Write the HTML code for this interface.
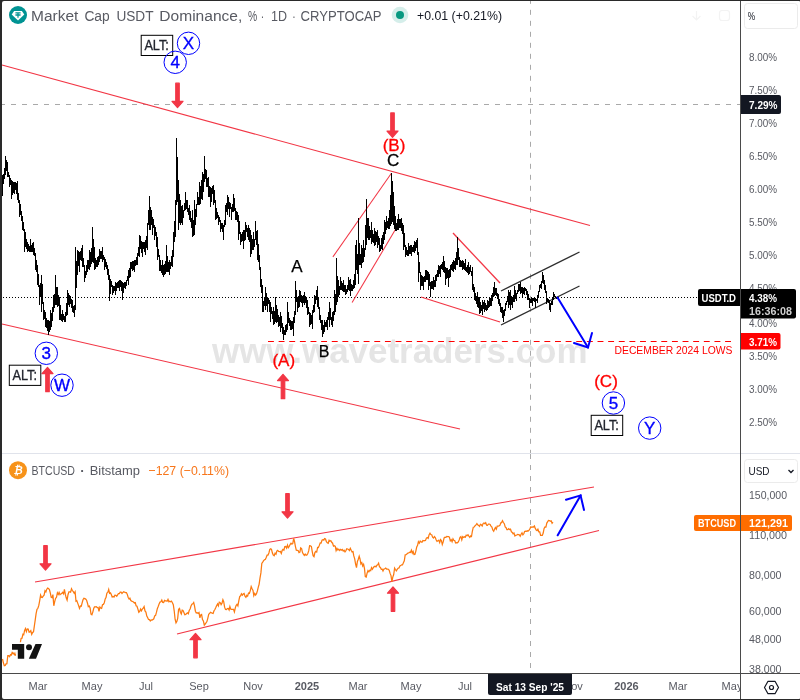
<!DOCTYPE html>
<html><head><meta charset="utf-8"><title>USDT.D chart</title>
<style>
html,body{margin:0;padding:0;background:#fff;}
body{width:800px;height:700px;overflow:hidden;position:relative;font-family:"Liberation Sans",sans-serif;}
svg{position:absolute;left:0;top:0;display:block;}
svg text{font-family:"Liberation Sans",sans-serif;}
</style></head><body>
<svg width="800" height="700" viewBox="0 0 800 700">
<rect x="0" y="0" width="800" height="700" fill="#ffffff"/>

<text x="212" y="363.3" font-size="34.5" font-weight="bold" fill="#e5e5e5" textLength="375.5" lengthAdjust="spacingAndGlyphs">www.wavetraders.com</text>
<path d="M0,104.5H740" stroke="#a9a9a9" stroke-width="1" stroke-dasharray="5 6" fill="none"/>
<path d="M530.5,-1.2V453M530.5,454V673" stroke="#a9a9a9" stroke-width="1" stroke-dasharray="5 6" fill="none"/>
<path d="M0,297.5H698" stroke="#000" stroke-width="1" stroke-dasharray="1 2" fill="none"/>
<path d="M268,341.5H735.5" stroke="#ff0000" stroke-width="1" stroke-dasharray="5.9 4.73" fill="none"/>
<g stroke="#f23645" stroke-width="1.05" fill="none">
<path d="M2,65L590,225.5"/>
<path d="M2,324L460,429"/>
<path d="M332.9,256.9L391.4,173.3"/>
<path d="M352.1,302.5L395.4,229.6"/>
<path d="M453,233L500,283" stroke-width="1.3"/>
<path d="M421,297L500,322" stroke-width="1.3"/>
<path d="M35,582L594,486.9"/>
<path d="M177,634L599,530.6"/>
</g>
<g stroke="#2e2e2e" stroke-width="1.35" fill="none">
<path d="M501,291L579.5,252"/>
<path d="M501,325L579.5,286"/>
</g>
<path d="M2.5,175.0V196.0M3.5,174.0V184.0M4.5,168.0V179.0M5.5,156.0V175.0M6.5,160.0V171.0M7.5,162.0V177.0M8.5,172.0V177.0M9.5,175.0V187.0M10.5,178.0V185.0M11.5,180.0V199.0M12.5,181.0V195.0M13.5,182.0V193.0M14.5,182.0V194.0M15.5,182.0V190.0M16.5,183.0V194.0M17.5,181.0V200.0M18.5,193.0V203.0M19.5,200.0V217.0M20.5,204.0V215.0M21.5,211.0V221.0M22.5,216.0V230.0M23.5,222.0V231.0M24.5,229.0V252.0M25.5,232.0V247.0M26.5,239.0V249.0M27.5,242.0V252.0M28.5,244.0V251.0M29.5,246.0V252.0M30.5,239.0V252.0M31.5,245.0V252.0M32.5,243.0V252.0M33.5,242.0V255.0M34.5,248.0V256.0M35.5,253.0V270.0M36.5,260.0V272.0M37.5,265.0V285.0M38.5,274.0V287.0M39.5,285.0V305.0M40.5,283.0V297.0M41.5,275.0V312.0M42.5,284.0V304.0M43.5,302.0V320.0M44.5,310.0V319.0M45.5,312.0V327.0M46.5,318.0V328.0M47.5,320.0V331.0M48.5,320.0V335.0M49.5,321.0V332.0M50.5,310.0V330.0M51.5,313.0V327.0M52.5,307.0V321.0M53.5,295.0V312.0M54.5,294.0V308.0M55.5,275.0V305.0M56.5,287.0V305.0M57.5,287.0V307.0M58.5,295.0V306.0M59.5,297.0V320.0M60.5,305.0V320.0M61.5,314.0V321.0M62.5,310.0V322.0M63.5,314.0V320.0M64.5,316.0V322.0M65.5,312.0V322.0M66.5,303.0V316.0M67.5,290.0V315.0M68.5,293.0V305.0M69.5,295.0V307.0M70.5,296.0V304.0M71.5,299.0V308.0M72.5,300.0V312.0M73.5,306.0V313.0M74.5,305.0V317.0M75.5,247.0V310.0M76.5,261.0V288.0M77.5,250.0V275.0M78.5,251.0V266.0M79.5,252.0V272.0M80.5,251.0V260.0M81.5,248.0V261.0M82.5,245.0V267.0M83.5,258.0V267.0M84.5,265.0V282.0M85.5,271.0V278.0M86.5,265.0V275.0M87.5,260.0V272.0M88.5,260.0V269.0M89.5,250.0V270.0M90.5,252.0V267.0M91.5,248.0V264.0M92.5,227.0V262.0M93.5,239.0V263.0M94.5,247.0V270.0M95.5,258.0V269.0M96.5,260.0V267.0M97.5,257.0V267.0M98.5,256.0V265.0M99.5,249.0V262.0M100.5,251.0V259.0M101.5,251.0V259.0M102.5,247.0V262.0M103.5,255.0V260.0M104.5,257.0V270.0M105.5,259.0V267.0M106.5,262.0V269.0M107.5,265.0V275.0M108.5,269.0V280.0M109.5,275.0V301.0M110.5,279.0V294.0M111.5,281.0V287.0M112.5,285.0V295.0M113.5,286.0V293.0M114.5,286.0V291.0M115.5,282.0V295.0M116.5,283.0V291.0M117.5,282.0V288.0M118.5,281.0V288.0M119.5,280.0V291.0M120.5,280.0V287.0M121.5,281.0V291.0M122.5,282.0V300.0M123.5,283.0V293.0M124.5,282.0V288.0M125.5,282.0V289.0M126.5,280.0V286.0M127.5,276.0V281.0M128.5,270.0V285.0M129.5,268.0V278.0M130.5,262.0V277.0M131.5,262.0V269.0M132.5,261.0V271.0M133.5,261.0V270.0M134.5,260.0V272.0M135.5,260.0V266.0M136.5,257.0V265.0M137.5,253.0V265.0M138.5,247.0V256.0M139.5,235.0V257.0M140.5,236.0V249.0M141.5,241.0V253.0M142.5,242.0V257.0M143.5,242.0V249.0M144.5,242.0V252.0M145.5,240.0V255.0M146.5,236.0V248.0M147.5,223.0V250.0M148.5,210.0V225.0M149.5,196.0V230.0M150.5,207.0V230.0M151.5,210.0V225.0M152.5,217.0V235.0M153.5,219.0V228.0M154.5,225.0V240.0M155.5,227.0V236.0M156.5,232.0V247.0M157.5,237.0V260.0M158.5,249.0V257.0M159.5,255.0V271.0M160.5,260.0V271.0M161.5,265.0V273.0M162.5,260.0V275.0M163.5,265.0V277.0M164.5,264.0V275.0M165.5,261.0V274.0M166.5,245.0V272.0M167.5,256.0V272.0M168.5,262.0V272.0M169.5,260.0V275.0M170.5,262.0V269.0M171.5,256.0V266.0M172.5,250.0V267.0M173.5,232.0V257.0M174.5,221.0V242.0M175.5,200.0V237.0M176.5,138.0V205.0M177.5,157.0V202.0M178.5,180.0V230.0M179.5,194.0V223.0M180.5,200.0V225.0M181.5,206.0V223.0M182.5,205.0V225.0M183.5,210.0V218.0M184.5,203.0V211.0M185.5,192.0V210.0M186.5,200.0V209.0M187.5,200.0V212.0M188.5,208.0V215.0M189.5,205.0V220.0M190.5,211.0V222.0M191.5,218.0V228.0M192.5,210.0V237.0M193.5,220.0V236.0M194.5,200.0V235.0M195.5,209.0V225.0M196.5,204.0V217.0M197.5,192.0V205.0M198.5,197.0V205.0M199.5,182.0V205.0M200.5,186.0V204.0M201.5,180.0V199.0M202.5,172.0V200.0M203.5,174.0V192.0M204.5,156.0V182.0M205.5,169.0V179.0M206.5,170.0V187.0M207.5,178.0V187.0M208.5,177.0V197.0M209.5,186.0V197.0M210.5,187.0V207.0M211.5,188.0V202.0M212.5,186.0V194.0M213.5,185.0V205.0M214.5,190.0V203.0M215.5,200.0V220.0M216.5,208.0V219.0M217.5,212.0V218.0M218.5,215.0V225.0M219.5,217.0V222.0M220.5,220.0V232.0M221.5,223.0V229.0M222.5,223.0V232.0M223.5,225.0V240.0M224.5,220.0V227.0M225.5,205.0V225.0M226.5,203.0V212.0M227.5,195.0V215.0M228.5,197.0V209.0M229.5,202.0V217.0M230.5,203.0V209.0M231.5,207.0V220.0M232.5,204.0V212.0M233.5,194.0V212.0M234.5,198.0V211.0M235.5,208.0V220.0M236.5,211.0V220.0M237.5,212.0V222.0M238.5,215.0V240.0M239.5,221.0V234.0M240.5,232.0V245.0M241.5,234.0V242.0M242.5,232.0V241.0M243.5,230.0V249.0M244.5,230.0V241.0M245.5,222.0V240.0M246.5,225.0V232.0M247.5,228.0V237.0M248.5,225.0V240.0M249.5,228.0V242.0M250.5,230.0V257.0M251.5,235.0V254.0M252.5,239.0V250.0M253.5,232.0V250.0M254.5,239.0V247.0M255.5,221.0V240.0M256.5,231.0V245.0M257.5,230.0V260.0M258.5,244.0V262.0M259.5,255.0V270.0M260.5,267.0V287.0M261.5,279.0V293.0M262.5,285.0V312.0M263.5,301.0V312.0M264.5,297.0V306.0M265.5,287.0V310.0M266.5,293.0V306.0M267.5,297.0V312.0M268.5,298.0V304.0M269.5,300.0V312.0M270.5,302.0V322.0M271.5,307.0V314.0M272.5,311.0V319.0M273.5,307.0V325.0M274.5,311.0V324.0M275.5,297.0V322.0M276.5,305.0V323.0M277.5,309.0V322.0M278.5,315.0V327.0M279.5,317.0V326.0M280.5,312.0V332.0M281.5,316.0V328.0M282.5,323.0V334.0M283.5,327.0V340.0M284.5,330.0V335.0M285.5,325.0V335.0M286.5,324.0V332.0M287.5,302.0V330.0M288.5,312.0V323.0M289.5,318.0V326.0M290.5,320.0V330.0M291.5,321.0V330.0M292.5,321.0V329.0M293.5,317.0V336.0M294.5,311.0V323.0M295.5,281.0V315.0M296.5,290.0V302.0M297.5,297.0V312.0M298.5,296.0V308.0M299.5,290.0V307.0M300.5,291.0V302.0M301.5,295.0V303.0M302.5,296.0V307.0M303.5,295.0V303.0M304.5,292.0V305.0M305.5,296.0V303.0M306.5,297.0V308.0M307.5,300.0V315.0M308.5,307.0V314.0M309.5,312.0V327.0M310.5,313.0V325.0M311.5,315.0V324.0M312.5,310.0V329.0M313.5,305.0V313.0M314.5,295.0V312.0M315.5,296.0V304.0M316.5,290.0V300.0M317.5,286.0V307.0M318.5,298.0V309.0M319.5,307.0V320.0M320.5,315.0V323.0M321.5,320.0V330.0M322.5,320.0V337.0M323.5,325.0V334.0M324.5,320.0V332.0M325.5,322.0V327.0M326.5,320.0V327.0M327.5,317.0V330.0M328.5,312.0V320.0M329.5,302.0V327.0M330.5,308.0V320.0M331.5,317.0V325.0M332.5,312.0V327.0M333.5,311.0V321.0M334.5,290.0V315.0M335.5,294.0V312.0M336.5,258.0V305.0M337.5,276.0V302.0M338.5,280.0V297.0M339.5,286.0V295.0M340.5,277.0V290.0M341.5,281.0V290.0M342.5,283.0V291.0M343.5,280.0V292.0M344.5,285.0V292.0M345.5,285.0V295.0M346.5,289.0V294.0M347.5,285.0V292.0M348.5,277.0V290.0M349.5,280.0V291.0M350.5,279.0V296.0M351.5,284.0V291.0M352.5,285.0V291.0M353.5,280.0V289.0M354.5,274.0V288.0M355.5,245.0V285.0M356.5,240.0V270.0M357.5,254.0V274.0M358.5,218.0V284.0M359.5,243.0V265.0M360.5,254.0V265.0M361.5,245.0V268.0M362.5,248.0V263.0M363.5,240.0V262.0M364.5,248.0V257.0M365.5,225.0V250.0M366.5,199.0V245.0M367.5,218.0V238.0M368.5,218.0V240.0M369.5,226.0V240.0M370.5,230.0V238.0M371.5,222.0V244.0M372.5,230.0V242.0M373.5,234.0V243.0M374.5,228.0V246.0M375.5,231.0V245.0M376.5,232.0V242.0M377.5,230.0V248.0M378.5,236.0V245.0M379.5,238.0V252.0M380.5,245.0V251.0M381.5,238.0V249.0M382.5,235.0V250.0M383.5,232.0V244.0M384.5,220.0V240.0M385.5,222.0V234.0M386.5,216.0V230.0M387.5,221.0V228.0M388.5,218.0V229.0M389.5,210.0V229.0M390.5,195.0V226.0M391.5,173.0V224.0M392.5,181.0V222.0M393.5,192.0V225.0M394.5,206.0V229.0M395.5,216.0V231.0M396.5,223.0V231.0M397.5,219.0V230.0M398.5,214.0V230.0M399.5,219.0V228.0M400.5,219.0V228.0M401.5,218.0V231.0M402.5,223.0V234.0M403.5,225.0V250.0M404.5,233.0V247.0M405.5,245.0V257.0M406.5,247.0V255.0M407.5,250.0V256.0M408.5,243.0V256.0M409.5,246.0V254.0M410.5,245.0V254.0M411.5,245.0V256.0M412.5,247.0V252.0M413.5,245.0V252.0M414.5,241.0V253.0M415.5,242.0V251.0M416.5,240.0V248.0M417.5,238.0V255.0M418.5,252.0V282.0M419.5,262.0V273.0M420.5,272.0V290.0M421.5,275.0V286.0M422.5,276.0V286.0M423.5,277.0V290.0M424.5,276.0V282.0M425.5,270.0V282.0M426.5,270.0V280.0M427.5,271.0V280.0M428.5,272.0V290.0M429.5,274.0V286.0M430.5,282.0V297.0M431.5,281.0V289.0M432.5,281.0V289.0M433.5,277.0V290.0M434.5,280.0V287.0M435.5,275.0V287.0M436.5,274.0V281.0M437.5,270.0V277.0M438.5,265.0V277.0M439.5,266.0V274.0M440.5,265.0V277.0M441.5,264.0V269.0M442.5,262.0V270.0M443.5,256.0V272.0M444.5,261.0V273.0M445.5,267.0V285.0M446.5,268.0V279.0M447.5,268.0V278.0M448.5,270.0V287.0M449.5,269.0V278.0M450.5,265.0V277.0M451.5,264.0V270.0M452.5,262.0V271.0M453.5,260.0V272.0M454.5,261.0V269.0M455.5,258.0V270.0M456.5,252.0V265.0M457.5,237.0V265.0M458.5,248.0V260.0M459.5,257.0V267.0M460.5,260.0V267.0M461.5,261.0V267.0M462.5,260.0V270.0M463.5,261.0V269.0M464.5,263.0V270.0M465.5,259.0V271.0M466.5,267.0V272.0M467.5,265.0V273.0M468.5,262.0V275.0M469.5,267.0V274.0M470.5,265.0V272.0M471.5,271.0V276.0M472.5,267.0V290.0M473.5,284.0V292.0M474.5,287.0V300.0M475.5,293.0V301.0M476.5,296.0V304.0M477.5,292.0V307.0M478.5,297.0V308.0M479.5,297.0V314.0M480.5,302.0V313.0M481.5,305.0V311.0M482.5,300.0V315.0M483.5,302.0V309.0M484.5,300.0V312.0M485.5,303.0V310.0M486.5,305.0V311.0M487.5,300.0V310.0M488.5,301.0V308.0M489.5,297.0V307.0M490.5,298.0V306.0M491.5,295.0V306.0M492.5,293.0V301.0M493.5,287.0V297.0M494.5,282.0V296.0M495.5,288.0V295.0M496.5,288.0V296.0M497.5,293.0V299.0M498.5,294.0V304.0M499.5,299.0V306.0M500.5,303.0V312.0M501.5,307.0V313.0M502.5,307.0V318.0M503.5,310.0V322.0M504.5,309.0V316.0M505.5,303.0V311.0M506.5,301.0V305.0M507.5,296.0V302.0M508.5,290.0V308.0M509.5,292.0V305.0M510.5,290.0V310.0M511.5,296.0V305.0M512.5,297.0V308.0M513.5,295.0V302.0M514.5,286.0V302.0M515.5,290.0V299.0M516.5,293.0V301.0M517.5,290.0V294.0M518.5,284.0V292.0M519.5,284.0V291.0M520.5,282.0V294.0M521.5,287.0V293.0M522.5,287.0V297.0M523.5,288.0V294.0M524.5,287.0V295.0M525.5,288.0V291.0M526.5,289.0V295.0M527.5,291.0V300.0M528.5,294.0V300.0M529.5,298.0V308.0M530.5,299.0V303.0M531.5,298.0V303.0M532.5,298.0V306.0M533.5,298.0V301.0M534.5,298.0V302.0M535.5,298.0V308.0M536.5,299.0V301.0M537.5,295.0V303.0M538.5,291.0V298.0M539.5,285.0V292.0M540.5,284.0V288.0M541.5,281.0V289.0M542.5,272.0V283.0M543.5,275.0V284.0M544.5,280.0V290.0M545.5,285.0V293.0M546.5,291.0V304.0M547.5,298.0V302.0M548.5,299.0V303.0M549.5,300.0V310.0M550.5,303.0V312.0M551.5,301.0V305.0M552.5,298.0V305.0M553.5,292.0V300.0M554.5,294.0V297.0M555.5,296.0V298.0M556.5,297.0V299.0M557.5,297.0V299.0" stroke="#000" stroke-width="1" fill="none" shape-rendering="crispEdges"/>
<path d="M2.5,659.0L3.4,662.8L4.3,665.7L5.2,665.5L6.0,663.9L6.9,663.7L7.8,655.7L8.7,655.7L9.6,656.6L10.5,654.6L11.3,655.1L12.2,652.3L13.1,653.8L14.0,653.0L14.9,655.1L15.8,655.1L16.7,650.9L17.5,649.3L18.4,646.9L19.3,646.6L20.2,643.4L21.1,638.5L22.0,638.2L22.9,634.3L23.7,634.8L24.6,630.4L25.5,628.5L26.4,631.6L27.3,628.9L28.2,629.1L29.1,632.2L29.9,631.9L30.8,630.7L31.7,634.4L32.6,632.4L33.5,631.8L34.4,625.6L35.2,620.1L36.1,613.7L37.0,609.3L37.9,608.3L38.8,605.4L39.7,600.6L40.6,595.1L41.4,597.2L42.3,597.5L43.2,596.2L44.1,595.2L45.0,590.7L45.9,591.9L46.7,589.4L47.6,588.0L48.5,588.6L49.4,589.6L50.3,592.8L51.2,597.3L52.1,597.7L52.9,594.6L53.8,605.8L54.7,601.7L55.6,598.3L56.5,597.3L57.4,592.8L58.3,594.4L59.1,592.5L60.0,594.7L60.9,593.9L61.8,593.4L62.7,592.4L63.6,593.8L64.4,589.4L65.3,594.2L66.2,597.8L67.1,600.1L68.0,594.7L68.9,591.9L69.8,591.8L70.6,592.1L71.5,588.8L72.4,590.5L73.3,591.7L74.2,593.2L75.1,591.7L76.0,601.2L76.8,600.7L77.7,603.1L78.6,605.6L79.5,608.3L80.4,606.0L81.3,606.2L82.2,602.7L83.0,599.8L83.9,598.2L84.8,598.6L85.7,599.1L86.6,600.2L87.5,603.2L88.3,606.7L89.2,606.0L90.1,608.0L91.0,614.1L91.9,614.8L92.8,612.1L93.7,608.5L94.5,606.9L95.4,606.8L96.3,606.6L97.2,607.6L98.1,607.4L99.0,611.4L99.9,607.1L100.7,608.0L101.6,608.4L102.5,604.8L103.4,604.4L104.3,602.7L105.2,598.9L106.0,597.6L106.9,593.1L107.8,592.4L108.7,589.4L109.6,593.3L110.5,592.9L111.4,594.8L112.2,597.0L113.1,596.5L114.0,597.1L114.9,595.2L115.8,595.4L116.7,596.2L117.6,594.8L118.4,593.7L119.3,593.7L120.2,592.2L121.1,592.1L122.0,593.5L122.9,592.4L123.7,591.8L124.6,592.2L125.5,592.5L126.4,592.5L127.3,594.4L128.2,597.5L129.1,599.0L129.9,598.2L130.8,600.5L131.7,601.1L132.6,601.5L133.5,602.0L134.4,603.0L135.3,602.6L136.1,605.9L137.0,606.3L137.9,609.1L138.8,612.2L139.7,611.3L140.6,609.1L141.4,610.9L142.3,609.2L143.2,608.2L144.1,606.5L145.0,610.9L145.9,612.1L146.8,616.1L147.6,617.5L148.5,619.5L149.4,619.6L150.3,620.9L151.2,619.9L152.1,620.1L153.0,619.4L153.8,618.8L154.7,615.9L155.6,615.3L156.5,612.2L157.4,608.4L158.3,606.3L159.1,604.1L160.0,602.1L160.9,601.8L161.8,600.1L162.7,602.4L163.6,602.5L164.5,600.4L165.3,600.9L166.2,600.9L167.1,601.2L168.0,599.3L168.9,601.8L169.8,601.2L170.6,601.8L171.5,601.1L172.4,602.7L173.3,604.7L174.2,610.8L175.1,619.2L176.0,622.9L176.8,621.6L177.7,618.3L178.6,609.2L179.5,608.4L180.4,612.2L181.3,614.0L182.2,610.2L183.0,610.5L183.9,612.5L184.8,614.7L185.7,614.4L186.6,613.5L187.5,612.8L188.3,613.7L189.2,610.5L190.1,609.0L191.0,606.0L191.9,604.3L192.8,603.8L193.7,602.5L194.5,605.9L195.4,611.2L196.3,613.0L197.2,612.7L198.1,613.4L199.0,612.5L199.9,617.8L200.7,615.0L201.6,614.5L202.5,619.5L203.4,621.0L204.3,625.1L205.2,624.0L206.0,623.0L206.9,621.6L207.8,618.3L208.7,614.3L209.6,613.3L210.5,612.3L211.4,612.7L212.2,613.2L213.1,613.5L214.0,610.7L214.9,609.5L215.8,607.6L216.7,605.5L217.6,603.9L218.4,605.8L219.3,602.2L220.2,602.6L221.1,604.6L222.0,603.2L222.9,599.8L223.7,601.7L224.6,607.2L225.5,609.5L226.4,609.6L227.3,608.6L228.2,608.5L229.1,610.0L229.9,606.6L230.8,609.2L231.7,609.4L232.6,609.3L233.5,609.3L234.4,611.9L235.3,607.8L236.1,605.5L237.0,604.3L237.9,605.9L238.8,600.9L239.7,596.6L240.6,595.8L241.4,593.8L242.3,595.2L243.2,594.0L244.1,593.4L245.0,596.2L245.9,597.4L246.8,595.4L247.6,596.1L248.5,593.0L249.4,593.4L250.3,590.7L251.2,586.6L252.1,588.7L253.0,590.4L253.8,595.7L254.7,593.5L255.6,595.1L256.5,593.7L257.4,590.9L258.3,587.2L259.1,584.3L260.0,578.2L260.9,572.9L261.8,563.4L262.7,562.1L263.6,560.6L264.5,559.7L265.3,559.4L266.2,557.4L267.1,555.2L268.0,555.1L268.9,553.0L269.8,549.4L270.7,548.8L271.5,549.4L272.4,553.1L273.3,555.0L274.2,555.7L275.1,553.2L276.0,554.2L276.8,551.1L277.7,550.4L278.6,551.4L279.5,551.6L280.4,551.5L281.3,553.5L282.2,550.4L283.0,549.4L283.9,550.1L284.8,546.6L285.7,546.5L286.6,548.2L287.5,545.0L288.4,547.6L289.2,546.5L290.1,544.6L291.0,543.2L291.9,544.2L292.8,543.4L293.7,538.3L294.5,541.5L295.4,546.3L296.3,550.1L297.2,550.3L298.1,550.5L299.0,552.6L299.9,552.1L300.7,547.9L301.6,548.6L302.5,552.6L303.4,554.2L304.3,555.4L305.2,554.1L306.1,555.3L306.9,554.9L307.8,553.5L308.7,550.9L309.6,545.7L310.5,545.9L311.4,546.5L312.2,551.3L313.1,555.6L314.0,556.6L314.9,552.6L315.8,551.4L316.7,552.0L317.6,547.4L318.4,547.6L319.3,545.4L320.2,542.9L321.1,543.1L322.0,540.2L322.9,539.7L323.8,540.1L324.6,538.5L325.5,539.0L326.4,541.6L327.3,542.8L328.2,543.3L329.1,540.3L329.9,541.2L330.8,540.6L331.7,542.3L332.6,543.2L333.5,546.2L334.4,545.7L335.3,546.4L336.1,550.6L337.0,548.4L337.9,550.0L338.8,549.2L339.7,550.5L340.6,549.4L341.5,550.2L342.3,549.4L343.2,551.0L344.1,550.2L345.0,551.8L345.9,550.6L346.8,548.8L347.6,549.0L348.5,549.4L349.4,550.6L350.3,548.4L351.2,550.3L352.1,551.9L353.0,551.6L353.8,555.9L354.7,558.8L355.6,564.0L356.5,567.6L357.4,561.5L358.3,559.2L359.2,556.2L360.0,558.9L360.9,563.9L361.8,562.6L362.7,566.0L363.6,564.3L364.5,568.6L365.3,576.7L366.2,577.1L367.1,573.1L368.0,570.5L368.9,571.8L369.8,570.3L370.7,570.6L371.5,567.7L372.4,569.3L373.3,567.7L374.2,566.6L375.1,566.3L376.0,566.8L376.9,565.2L377.7,564.8L378.6,563.2L379.5,566.8L380.4,567.4L381.3,569.3L382.2,569.2L383.0,571.0L383.9,569.1L384.8,568.8L385.7,568.1L386.6,569.0L387.5,569.0L388.4,569.2L389.2,570.3L390.1,573.4L391.0,575.6L391.9,581.7L392.8,577.1L393.7,574.5L394.6,568.1L395.4,569.5L396.3,570.8L397.2,569.4L398.1,568.2L399.0,567.9L399.9,566.0L400.7,565.6L401.6,564.8L402.5,564.9L403.4,562.8L404.3,560.8L405.2,554.8L406.1,554.6L406.9,554.1L407.8,553.1L408.7,553.0L409.6,552.2L410.5,552.5L411.4,550.2L412.3,553.0L413.1,551.4L414.0,554.5L414.9,554.4L415.8,551.3L416.7,547.0L417.6,545.4L418.4,541.7L419.3,543.2L420.2,541.1L421.1,541.9L422.0,542.3L422.9,540.5L423.8,540.9L424.6,540.6L425.5,540.4L426.4,538.1L427.3,537.5L428.2,538.3L429.1,534.7L430.0,533.2L430.8,534.5L431.7,534.7L432.6,537.2L433.5,538.0L434.4,536.6L435.3,537.5L436.1,539.7L437.0,541.4L437.9,540.7L438.8,540.2L439.7,542.6L440.6,539.6L441.5,540.8L442.3,544.5L443.2,541.9L444.1,537.9L445.0,537.2L445.9,537.4L446.8,536.5L447.7,536.7L448.5,536.6L449.4,537.2L450.3,540.8L451.2,539.7L452.1,541.8L453.0,538.9L453.8,540.3L454.7,540.6L455.6,542.9L456.5,542.6L457.4,542.9L458.3,541.9L459.2,539.9L460.0,537.4L460.9,536.6L461.8,539.9L462.7,536.6L463.6,537.5L464.5,536.8L465.4,537.1L466.2,535.1L467.1,535.7L468.0,534.7L468.9,536.1L469.8,537.3L470.7,535.9L471.5,536.5L472.4,531.0L473.3,527.2L474.2,527.0L475.1,525.7L476.0,524.9L476.9,523.6L477.7,524.8L478.6,525.4L479.5,526.4L480.4,524.3L481.3,524.8L482.2,526.0L483.1,523.6L483.9,523.0L484.8,523.6L485.7,522.7L486.6,525.1L487.5,525.3L488.4,524.0L489.2,524.0L490.1,524.4L491.0,526.1L491.9,527.1L492.8,530.0L493.7,531.2L494.6,529.1L495.4,527.6L496.3,529.2L497.2,526.2L498.1,526.2L499.0,525.9L499.9,525.4L500.8,522.8L501.6,522.6L502.5,520.7L503.4,522.5L504.3,523.7L505.2,527.0L506.1,527.7L506.9,529.6L507.8,529.7L508.7,528.7L509.6,529.6L510.5,529.2L511.4,531.8L512.3,532.4L513.1,533.8L514.0,533.0L514.9,536.0L515.8,535.3L516.7,535.0L517.6,534.5L518.5,534.7L519.3,534.9L520.2,536.2L521.1,534.2L522.0,532.8L522.9,534.9L523.8,533.8L524.6,531.5L525.5,531.2L526.4,531.3L527.3,530.8L528.2,531.1L529.1,530.2L530.0,528.6L530.8,526.8L531.7,527.3L532.6,526.9L533.5,527.0L534.4,526.0L535.3,528.4L536.2,530.0L537.0,530.6L537.9,529.2L538.8,531.8L539.7,531.9L540.6,535.4L541.5,535.4L542.3,535.4L543.2,533.0L544.1,528.5L545.0,527.0L545.9,527.1L546.8,523.1L547.7,521.7L548.5,520.5L549.4,520.6L550.3,521.3L551.2,520.8L552.1,523.2L553.0,522.2" stroke="#fc7a10" stroke-width="1.25" fill="none" stroke-linejoin="miter"/>
<g stroke="#0000ff" stroke-width="2" fill="none" stroke-linecap="round">
<path d="M557.5,297.5L588,347.5"/><path d="M574,343L588,347.5L592,333"/>
<path d="M557.7,535.3L580.6,495.4"/><path d="M566,499.7L580.6,495.4L584,510"/>
</g>
<path d="M177.5,107.60 L183.0,101.30 L179.25,101.30 L179.25,83.20 L175.75,83.20 L175.75,101.30 L172.0,101.30 Z" fill="#f23645" stroke="#f23645" stroke-width="1.2" stroke-linejoin="round"/>
<path d="M392.5,137.30 L398.0,131.00 L394.25,131.00 L394.25,112.90 L390.75,112.90 L390.75,131.00 L387.0,131.00 Z" fill="#f23645" stroke="#f23645" stroke-width="1.2" stroke-linejoin="round"/>
<path d="M283,374.30 L288.5,380.60 L284.75,380.60 L284.75,398.70 L281.25,398.70 L281.25,380.60 L277.5,380.60 Z" fill="#f23645" stroke="#f23645" stroke-width="1.2" stroke-linejoin="round"/>
<path d="M47.5,367.30 L53.0,373.60 L49.25,373.60 L49.25,391.70 L45.75,391.70 L45.75,373.60 L42.0,373.60 Z" fill="#f23645" stroke="#f23645" stroke-width="1.2" stroke-linejoin="round"/>
<path d="M45.5,570.10 L51.0,563.80 L47.25,563.80 L47.25,545.70 L43.75,545.70 L43.75,563.80 L40.0,563.80 Z" fill="#f23645" stroke="#f23645" stroke-width="1.2" stroke-linejoin="round"/>
<path d="M287.5,518.10 L293.0,511.80 L289.25,511.80 L289.25,493.70 L285.75,493.70 L285.75,511.80 L282.0,511.80 Z" fill="#f23645" stroke="#f23645" stroke-width="1.2" stroke-linejoin="round"/>
<path d="M195.5,633.40 L201.0,639.70 L197.25,639.70 L197.25,657.80 L193.75,657.80 L193.75,639.70 L190.0,639.70 Z" fill="#f23645" stroke="#f23645" stroke-width="1.2" stroke-linejoin="round"/>
<path d="M393,586.90 L398.5,593.20 L394.75,593.20 L394.75,611.30 L391.25,611.30 L391.25,593.20 L387.5,593.20 Z" fill="#f23645" stroke="#f23645" stroke-width="1.2" stroke-linejoin="round"/>
<rect x="141.2" y="35.3" width="31.5" height="20.2" fill="#fff" stroke="#000" stroke-width="1"/><text x="144.39999999999998" y="50.3" font-size="14" fill="#22252e" stroke="#22252e" stroke-width="0.3" textLength="24.5" lengthAdjust="spacingAndGlyphs">ALT:</text>
<circle cx="188.5" cy="43.3" r="11.2" fill="none" stroke="#0000ff" stroke-width="1"/><text x="188.5" y="49.3" font-size="17" fill="#0000ff" stroke="#0000ff" stroke-width="0.35" text-anchor="middle">X</text>
<circle cx="175.2" cy="62.3" r="11.2" fill="none" stroke="#0000ff" stroke-width="1"/><text x="175.2" y="68.3" font-size="17" fill="#0000ff" stroke="#0000ff" stroke-width="0.35" text-anchor="middle">4</text>
<circle cx="46.3" cy="353.3" r="11.2" fill="none" stroke="#0000ff" stroke-width="1"/><text x="46.3" y="359.3" font-size="17" fill="#0000ff" stroke="#0000ff" stroke-width="0.35" text-anchor="middle">3</text>
<rect x="9.3" y="365.2" width="31.5" height="20.2" fill="#fff" stroke="#000" stroke-width="1"/><text x="12.5" y="380.2" font-size="14" fill="#22252e" stroke="#22252e" stroke-width="0.3" textLength="24.5" lengthAdjust="spacingAndGlyphs">ALT:</text>
<circle cx="62" cy="385.2" r="11.2" fill="none" stroke="#0000ff" stroke-width="1"/><text x="62" y="391.2" font-size="17" fill="#0000ff" stroke="#0000ff" stroke-width="0.35" text-anchor="middle">W</text>
<circle cx="613.4" cy="403" r="11.2" fill="none" stroke="#0000ff" stroke-width="1"/><text x="613.4" y="409" font-size="17" fill="#0000ff" stroke="#0000ff" stroke-width="0.35" text-anchor="middle">5</text>
<rect x="591.2" y="415.3" width="31.5" height="20.2" fill="#fff" stroke="#000" stroke-width="1"/><text x="594.4000000000001" y="430.3" font-size="14" fill="#22252e" stroke="#22252e" stroke-width="0.3" textLength="24.5" lengthAdjust="spacingAndGlyphs">ALT:</text>
<circle cx="649.7" cy="428.1" r="11.2" fill="none" stroke="#0000ff" stroke-width="1"/><text x="649.7" y="434.1" font-size="17" fill="#0000ff" stroke="#0000ff" stroke-width="0.35" text-anchor="middle">Y</text>
<text x="394" y="151" font-size="17" fill="#ff0000" stroke="#ff0000" stroke-width="0.3" text-anchor="middle">(B)</text>
<text x="393.2" y="166.2" font-size="17" fill="#000" stroke="#000" stroke-width="0.3" text-anchor="middle">C</text>
<text x="296.8" y="271.7" font-size="17" fill="#000" stroke="#000" stroke-width="0.25" text-anchor="middle">A</text>
<text x="324" y="357" font-size="16" fill="#000" stroke="#000" stroke-width="0.25" text-anchor="middle">B</text>
<text x="283.8" y="365.8" font-size="17" fill="#ff0000" stroke="#ff0000" stroke-width="0.3" text-anchor="middle">(A)</text>
<text x="606" y="387.3" font-size="17" fill="#ff0000" stroke="#ff0000" stroke-width="0.3" text-anchor="middle">(C)</text>
<text x="614.5" y="354.3" font-size="11" fill="#ff0000" textLength="118" lengthAdjust="spacingAndGlyphs">DECEMBER 2024 LOWS</text>
<circle cx="18" cy="15" r="9" fill="#009393"/>
<path d="M14.1,11.1H21.9L24.3,14.5L18,20.4L11.7,14.5Z" fill="#fff"/>
<path d="M15.4,12.3H20.6V13.4H18.6V14.2C20.1,14.3 21.1,14.6 21.1,15C21.1,15.4 20.1,15.7 18.6,15.8V17.8H17.4V15.8C15.9,15.7 14.9,15.4 14.9,15C14.9,14.6 15.9,14.3 17.4,14.2V13.4H15.4Z" fill="#009393"/>
<text x="31" y="21.3" font-size="15.4" fill="#585a62" textLength="47.3" lengthAdjust="spacingAndGlyphs">Market</text>
<text x="84.4" y="21.3" font-size="15.4" fill="#585a62" textLength="25.3" lengthAdjust="spacingAndGlyphs">Cap</text>
<text x="116.4" y="21.3" font-size="15.4" fill="#585a62" textLength="37.2" lengthAdjust="spacingAndGlyphs">USDT</text>
<text x="159.3" y="21.3" font-size="15.4" fill="#585a62" textLength="83.0" lengthAdjust="spacingAndGlyphs">Dominance,</text>
<text x="248" y="21.3" font-size="15.4" fill="#585a62" textLength="9.2" lengthAdjust="spacingAndGlyphs">%</text>
<text x="260.8" y="21.3" font-size="15.4" fill="#585a62" textLength="3.4" lengthAdjust="spacingAndGlyphs">·</text>
<text x="271" y="21.3" font-size="15.4" fill="#585a62" textLength="16.0" lengthAdjust="spacingAndGlyphs">1D</text>
<text x="292.3" y="21.3" font-size="15.4" fill="#585a62" textLength="3.4" lengthAdjust="spacingAndGlyphs">·</text>
<text x="300.6" y="21.3" font-size="15.4" fill="#585a62" textLength="81.0" lengthAdjust="spacingAndGlyphs">CRYPTOCAP</text>
<circle cx="400" cy="15" r="8.3" fill="#d5eeea"/><circle cx="400" cy="15" r="4" fill="#089981"/>
<text x="417" y="20.3" font-size="13.5" fill="#131722" textLength="85" lengthAdjust="spacingAndGlyphs">+0.01 (+0.21%)</text>
<path d="M696.5,11V20M692.5,16L696.5,20L700.5,16" fill="none" stroke="#f3f3f3" stroke-width="1.2"/><rect x="719.5" y="10.5" width="10" height="10" rx="2.5" fill="none" stroke="#f3f3f3" stroke-width="1.2"/>
<circle cx="18" cy="470.2" r="9" fill="#f7931a"/>
<text x="18.2" y="474.2" font-size="10.5" font-weight="bold" font-style="italic" fill="#fff" text-anchor="middle">₿</text>
<text x="31.5" y="474.9" font-size="13.4" fill="#585a62" textLength="43.5" lengthAdjust="spacingAndGlyphs">BTCUSD</text>
<text x="80.3" y="474.9" font-size="13.4" font-weight="bold" fill="#585a62">·</text>
<text x="89.7" y="474.9" font-size="13.4" fill="#585a62" textLength="50.3" lengthAdjust="spacingAndGlyphs">Bitstamp</text>
<text x="148.5" y="474.9" font-size="13.4" fill="#f7761b" textLength="80.5" lengthAdjust="spacingAndGlyphs">−127 (−0.11%)</text>
<rect x="741" y="1" width="59" height="699" fill="#fff"/>
<rect x="2" y="453" width="798" height="1" fill="#e0e3eb"/>
<rect x="740" y="1" width="1" height="699" fill="#4a4a4a"/>
<rect x="2" y="673" width="798" height="1" fill="#4a4a4a"/>
<rect x="2" y="674" width="738" height="25" fill="#fff"/>
<text x="749" y="60.9" font-size="11.5" fill="#585a62" textLength="28" lengthAdjust="spacingAndGlyphs">8.00%</text>
<text x="749" y="93.9" font-size="11.5" fill="#585a62" textLength="28" lengthAdjust="spacingAndGlyphs">7.50%</text>
<text x="749" y="126.9" font-size="11.5" fill="#585a62" textLength="28" lengthAdjust="spacingAndGlyphs">7.00%</text>
<text x="749" y="159.9" font-size="11.5" fill="#585a62" textLength="28" lengthAdjust="spacingAndGlyphs">6.50%</text>
<text x="749" y="192.9" font-size="11.5" fill="#585a62" textLength="28" lengthAdjust="spacingAndGlyphs">6.00%</text>
<text x="749" y="225.9" font-size="11.5" fill="#585a62" textLength="28" lengthAdjust="spacingAndGlyphs">5.50%</text>
<text x="749" y="258.9" font-size="11.5" fill="#585a62" textLength="28" lengthAdjust="spacingAndGlyphs">5.00%</text>
<text x="749" y="291.9" font-size="11.5" fill="#585a62" textLength="28" lengthAdjust="spacingAndGlyphs">4.50%</text>
<text x="749" y="326.59999999999997" font-size="11.5" fill="#585a62" textLength="28" lengthAdjust="spacingAndGlyphs">4.00%</text>
<text x="749" y="359.59999999999997" font-size="11.5" fill="#585a62" textLength="28" lengthAdjust="spacingAndGlyphs">3.50%</text>
<text x="749" y="392.59999999999997" font-size="11.5" fill="#585a62" textLength="28" lengthAdjust="spacingAndGlyphs">3.00%</text>
<text x="749" y="425.59999999999997" font-size="11.5" fill="#585a62" textLength="28" lengthAdjust="spacingAndGlyphs">2.50%</text>
<text x="749" y="499.4" font-size="11.5" fill="#585a62" textLength="38" lengthAdjust="spacingAndGlyphs">150,000</text>
<text x="749" y="538.9" font-size="11.5" fill="#585a62" textLength="38" lengthAdjust="spacingAndGlyphs">110,000</text>
<text x="749" y="579.4" font-size="11.5" fill="#585a62" textLength="32.5" lengthAdjust="spacingAndGlyphs">80,000</text>
<text x="749" y="615.4" font-size="11.5" fill="#585a62" textLength="32.5" lengthAdjust="spacingAndGlyphs">60,000</text>
<text x="749" y="643.4" font-size="11.5" fill="#585a62" textLength="32.5" lengthAdjust="spacingAndGlyphs">48,000</text>
<text x="749" y="673.4" font-size="11.5" fill="#585a62" textLength="32.5" lengthAdjust="spacingAndGlyphs">38,000</text>
<rect x="741" y="674" width="59" height="25" fill="#fff"/>
<rect x="744.5" y="3.5" width="53" height="25" rx="3" fill="#fff" stroke="#ebebeb"/>
<text x="747.8" y="20" font-size="11.5" fill="#131722" textLength="7.4" lengthAdjust="spacingAndGlyphs">%</text>
<rect x="744.5" y="459.5" width="53" height="23" rx="3" fill="#fff" stroke="#ebebeb"/>
<text x="748.5" y="475" font-size="11.5" fill="#131722" textLength="21" lengthAdjust="spacingAndGlyphs">USD</text>
<path d="M788.5,470L791,472.5L793.5,470" stroke="#131722" stroke-width="1.3" fill="none"/>
<path d="M741,95H779a2,2 0 0 1 2,2V112a2,2 0 0 1 -2,2H741Z" fill="#131722"/>
<text x="749" y="108.7" font-size="11.5" font-weight="bold" fill="#fff" textLength="28.5" lengthAdjust="spacingAndGlyphs">7.29%</text>
<path d="M700,289H740V306H700a2,2 0 0 1 -2,-2V291a2,2 0 0 1 2,-2Z" fill="#000"/>
<text x="701.5" y="301.7" font-size="11.5" font-weight="bold" fill="#fff" textLength="34.5" lengthAdjust="spacingAndGlyphs">USDT.D</text>
<path d="M741,289H794a2,2 0 0 1 2,2V316.5a2,2 0 0 1 -2,2H741Z" fill="#000"/>
<text x="749" y="302" font-size="11.5" font-weight="bold" fill="#fff" textLength="28" lengthAdjust="spacingAndGlyphs">4.38%</text>
<text x="749" y="315" font-size="11.5" font-weight="bold" fill="#cfcfcf" textLength="43" lengthAdjust="spacingAndGlyphs">16:36:08</text>
<path d="M741,333H778.5a2,2 0 0 1 2,2V347.5a2,2 0 0 1 -2,2H741Z" fill="#ff0000"/>
<text x="749" y="346" font-size="11.5" font-weight="bold" fill="#fff" textLength="28" lengthAdjust="spacingAndGlyphs">3.71%</text>
<path d="M696,515H740V531H696a2,2 0 0 1 -2,-2V517a2,2 0 0 1 2,-2Z" fill="#ff6d00"/>
<text x="698" y="527.3" font-size="11" font-weight="bold" fill="#fff" textLength="38" lengthAdjust="spacingAndGlyphs">BTCUSD</text>
<path d="M741,515H790a2,2 0 0 1 2,2V529a2,2 0 0 1 -2,2H741Z" fill="#ff6d00"/>
<text x="749" y="527.3" font-size="11.5" font-weight="bold" fill="#fff" textLength="39" lengthAdjust="spacingAndGlyphs">121,291</text>
<text x="38" y="689.8" font-size="11" fill="#585a62" text-anchor="middle">Mar</text>
<text x="92" y="689.8" font-size="11" fill="#585a62" text-anchor="middle">May</text>
<text x="146" y="689.8" font-size="11" fill="#585a62" text-anchor="middle">Jul</text>
<text x="199" y="689.8" font-size="11" fill="#585a62" text-anchor="middle">Sep</text>
<text x="253" y="689.8" font-size="11" fill="#585a62" text-anchor="middle">Nov</text>
<text x="307" y="689.8" font-size="11" fill="#585a62" text-anchor="middle" font-weight="bold">2025</text>
<text x="358" y="689.8" font-size="11" fill="#585a62" text-anchor="middle">Mar</text>
<text x="411" y="689.8" font-size="11" fill="#585a62" text-anchor="middle">May</text>
<text x="465" y="689.8" font-size="11" fill="#585a62" text-anchor="middle">Jul</text>
<text x="573" y="689.8" font-size="11" fill="#585a62" text-anchor="middle">Nov</text>
<text x="626.5" y="689.8" font-size="11" fill="#585a62" text-anchor="middle" font-weight="bold">2026</text>
<text x="678" y="689.8" font-size="11" fill="#585a62" text-anchor="middle">Mar</text>
<text x="732" y="689.8" font-size="11" fill="#585a62" text-anchor="middle">May</text>
<rect x="741" y="674" width="59" height="25" fill="#fff"/>
<rect x="740" y="674" width="1" height="25" fill="#4a4a4a"/>
<path d="M488,674H572V693a2,2 0 0 1 -2,2H490a2,2 0 0 1 -2,-2Z" fill="#131722"/>
<text x="530" y="690.5" font-size="11.5" font-weight="bold" fill="#fff" text-anchor="middle" textLength="68" lengthAdjust="spacingAndGlyphs">Sat 13 Sep '25</text>
<path d="M768,681.3H775L778.5,687.5L775,693.7H768L764.5,687.5Z" fill="none" stroke="#131722" stroke-width="1.2" stroke-linejoin="round"/><circle cx="771.5" cy="687.5" r="2" fill="none" stroke="#131722" stroke-width="1.2"/>
<g stroke="#fff" stroke-width="3.5" stroke-linejoin="round"><path d="M12,644H24.2V658.8H17.8V649.7H12Z M35.5,644H42L36,658.8H28.8Z" fill="#fff"/><circle cx="29" cy="647.2" r="3" fill="#fff"/></g>
<path d="M12,644H24.2V658.8H17.8V649.7H12Z M35.5,644H42L36,658.8H28.8Z" fill="#131313"/><circle cx="29" cy="647.2" r="3" fill="#131313"/>
<path d="M0,0H800V1H4a2,2 0 0 0 -2,2V697a2,2 0 0 0 2,2H800V700H0Z" fill="#2a2a2a"/>
<path d="M800,697.5A2.5,2.5 0 0 1 797.5,700H800Z M797.5,0A2.5,2.5 0 0 1 800,2.5V0Z" fill="#2a2a2a"/>
</svg>
</body></html>
